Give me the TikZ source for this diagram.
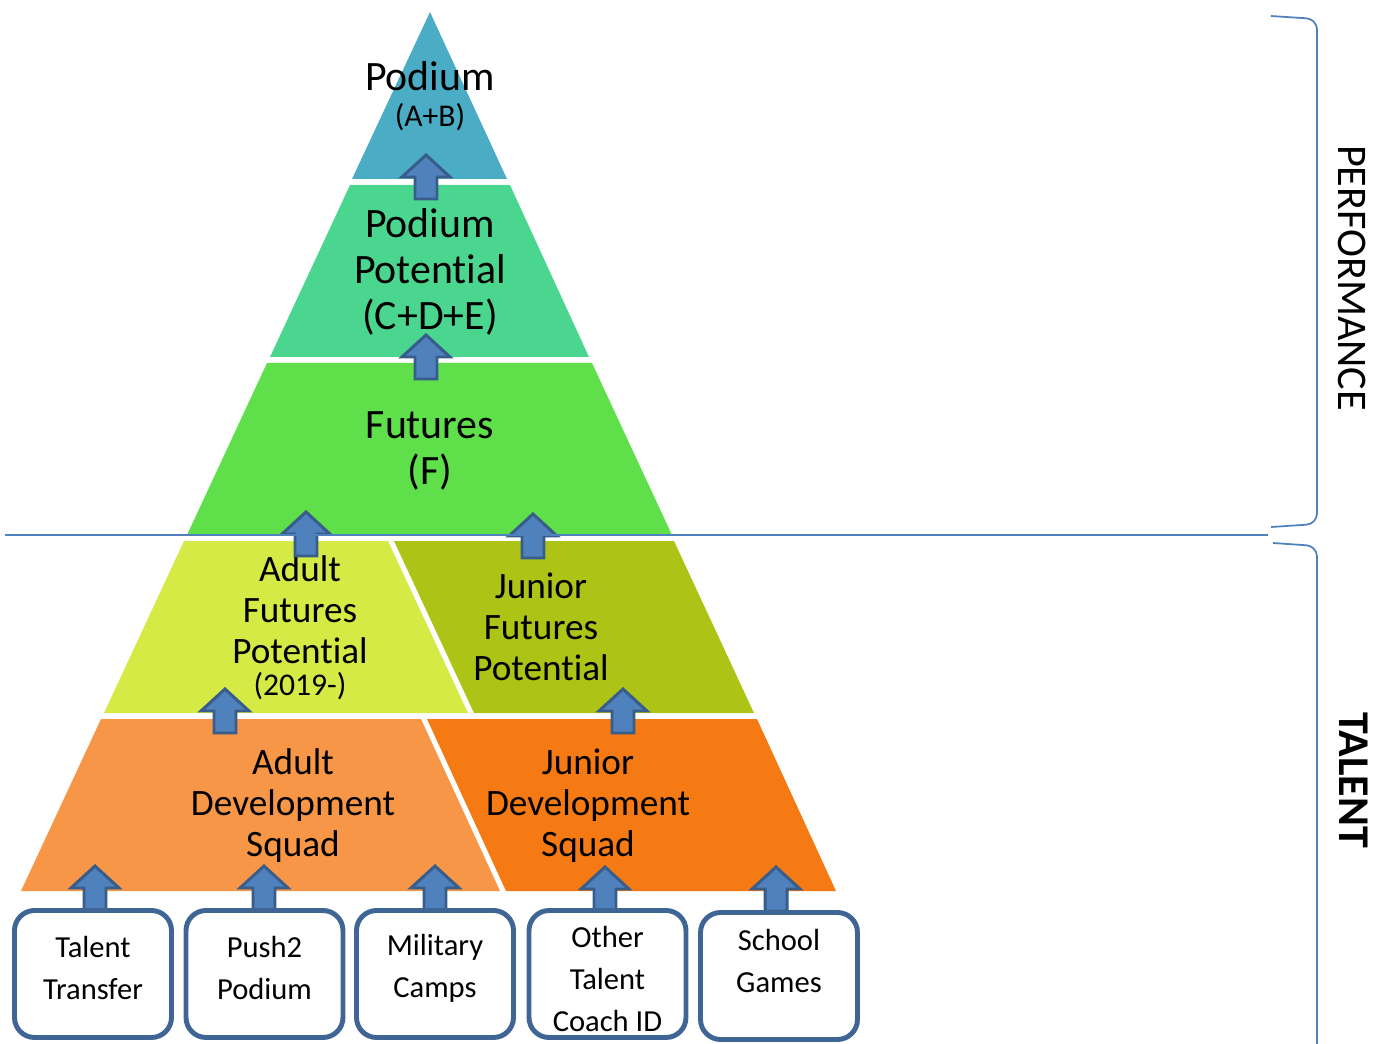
\documentclass[tikz,border=0pt]{standalone}
\usepackage{fontspec}
\setmainfont{Carlito}[Ligatures=NoCommon]
\usetikzlibrary{positioning}
\definecolor{podiumcol}{HTML}{4BACC6}
\definecolor{potentialcol}{HTML}{4BD690}
\definecolor{futurescol}{HTML}{5FE04A}
\definecolor{adultfutcol}{HTML}{D5EA45}
\definecolor{juniorfutcol}{HTML}{ADC417}
\definecolor{adultdevcol}{HTML}{F79646}
\definecolor{juniordevcol}{HTML}{F57A14}
\definecolor{arrfill}{HTML}{4F81BD}
\definecolor{arrline}{HTML}{385D8A}
\definecolor{boxline}{HTML}{3F6595}
\newcommand{\liftarrow}[2]{\draw[liftarr] (#1,#2) -- ++(24,22) -- ++(-13,0) -- ++(0,22) -- ++(-22,0) -- ++(0,-22) -- ++(-13,0) -- cycle;}
\newcommand{\smallnote}[1]{{\fontsize{18}{20}\selectfont #1}}

\begin{document}
\begin{tikzpicture}[x=0.02cm, y=-0.02cm,
	layertext/.style={align=center, font=\fontsize{23.8}{26.2}\selectfont},
	squadtext/.style={align=center, font=\fontsize{21.2}{23.3}\selectfont},
	liftarr/.style={fill=arrfill, draw=arrline, line width=1.7pt, line join=miter},
	srcbox/.style={draw=boxline, fill=white, line width=2.8pt, rounded corners=0.4cm,
		minimum width=3.14cm, minimum height=2.54cm},
	boxtext/.style={align=center, font=\fontsize{17.4}{23.8}\selectfont},
	bracket/.style={draw=arrfill, line width=1pt, rounded corners=6pt}
	]
	\useasboundingbox (0,0) rectangle (1387,1044);

	% pyramid layers
	\fill[podiumcol]    (430,12) -- (507,179) -- (352,179) -- cycle;
	\fill[potentialcol] (350,185) -- (510,185) -- (589,357) -- (270,357) -- cycle;
	\fill[futurescol]   (267,363) -- (592,363) -- (672,535) -- (187,535) -- cycle;
	\fill[adultfutcol]  (184,541) -- (388,541) -- (468,713) -- (104,713) -- cycle;
	\fill[juniorfutcol] (394,541) -- (674,541) -- (754,713) -- (474,713) -- cycle;
	\fill[adultdevcol]  (101,719) -- (421,719) -- (500,891) -- (21,891) -- cycle;
	\fill[juniordevcol] (427,719) -- (757,719) -- (836,891) -- (506,891) -- cycle;

	\node[layertext] (podium)    at (430,96)  {Podium\\[-6pt]\smallnote{(A+B)}};
	\node[layertext] (potential) at (430,272) {Podium\\Potential\\(C+D+E)};
	\node[layertext] (futures)   at (430,451) {Futures\\(F)};
	\node[squadtext] (adultfut)  at (300,628) {Adult\\Futures\\Potential\\[-5pt]\smallnote{(2019-)}};
	\node[squadtext] (juniorfut) at (541,627) {Junior\\Futures\\Potential};
	\node[squadtext] (adultdev)  at (293,806) {Adult\\Development\\Squad};
	\node[squadtext] (juniordev) at (588,806) {Junior\\Development\\Squad};

	% arrows between levels
	\liftarrow{426}{155}
	\liftarrow{426}{335}
	\liftarrow{306}{512}
	\liftarrow{533}{514}
	\liftarrow{225}{689}
	\liftarrow{623}{689}
	\liftarrow{95}{866}
	\liftarrow{264}{866}
	\liftarrow{435}{866}
	\liftarrow{605}{867}
	\liftarrow{776}{867}

	% entry routes
	\node[srcbox] (transfer) at (93,974)    {};
	\node[srcbox] (push)     at (264.5,974) {};
	\node[srcbox] (military) at (435,974)   {};
	\node[srcbox] (coachid)  at (607.5,974) {};
	\node[srcbox] (school)   at (779,976)   {};
	\node[boxtext] (transfert) at ([yshift=0.12cm]transfer.center) {Talent\\Transfer};
	\node[boxtext] (pusht)     at ([yshift=0.12cm]push.center)     {Push2\\Podium};
	\node[boxtext] (militaryt) at ([yshift=0.12cm]military.center) {Military\\Camps};
	\node[boxtext] (coachidt)  at ([yshift=-0.1cm]coachid.center)  {Other\\Talent\\Coach ID};
	\node[boxtext] (schoolt)   at ([yshift=0.3cm]school.center)    {School\\Games};

	% divider and brackets
	\draw[arrfill, line width=1pt] (5,535) -- (1268,535);
	\draw[bracket] (1271,16) -- (1317,19) -- (1317,524) -- (1271,527);
	\draw[bracket] (1273,543) -- (1317,546) -- (1317,1044);
	\node[rotate=-90, font=\fontsize{24}{26}\selectfont] (perf) at (1352,278) {PERFORMANCE};
	\node[rotate=-90, font=\fontsize{25}{28}\selectfont\bfseries] (talent) at (1354,780) {TALENT};
\end{tikzpicture}
\end{document}
